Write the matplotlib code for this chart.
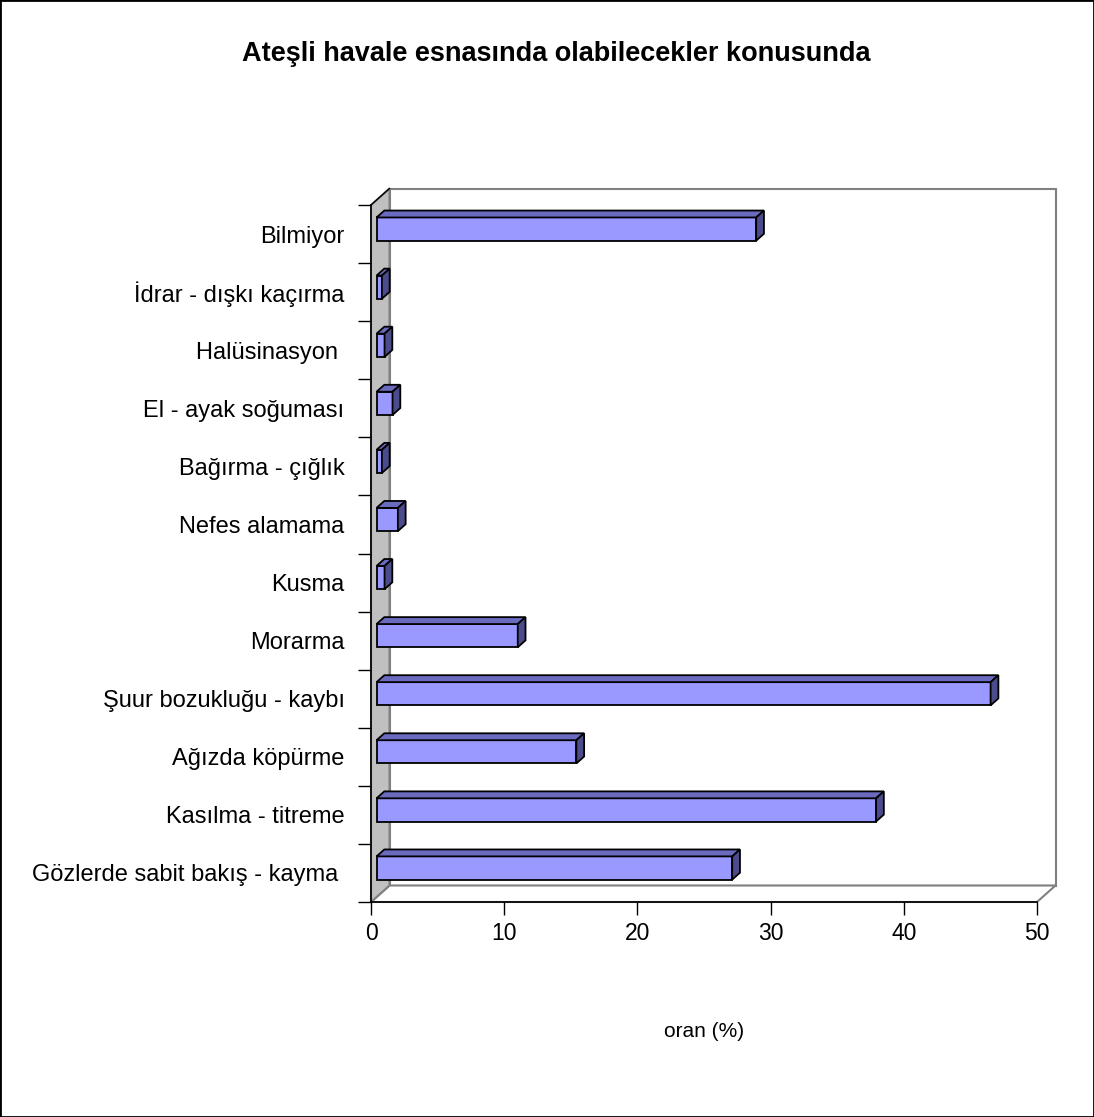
import matplotlib.pyplot as plt
from matplotlib.patches import Polygon, Rectangle

plt.rcParams["font.family"] = ["Liberation Sans", "DejaVu Sans"]

# Categories listed bottom to top
categories = [
    "Gözlerde sabit bakış - kayma ",
    "Kasılma - titreme",
    "Ağızda köpürme",
    "Şuur bozukluğu - kaybı",
    "Morarma",
    "Kusma",
    "Nefes alamama",
    "Bağırma - çığlık",
    "El - ayak soğuması",
    "Halüsinasyon ",
    "İdrar - dışkı kaçırma",
    "Bilmiyor",
]
values = [26.7, 37.5, 15.0, 46.1, 10.6, 0.6, 1.6, 0.4, 1.2, 0.6, 0.4, 28.5]
xticks = [0, 10, 20, 30, 40, 50]

title = "Ateşli havale esnasında olabilecekler konusunda"
xlabel = "oran (%)"

W, H = 1094, 1117
fig = plt.figure(figsize=(W / 100, H / 100), dpi=100)
fig.patches.append(Rectangle((0, 0), 1, 1, transform=fig.transFigure,
                             fill=False, edgecolor="black", lw=2))

# front plane of the plot box, in pixels
left, right, top, bottom = 371, 1037, 205, 902
ax = fig.add_axes([left / W, (H - bottom) / H, (right - left) / W, (bottom - top) / H])
ax.set_xlim(0, 50)
ax.set_ylim(0, len(categories))
ax.patch.set_visible(False)

# 3-D depth offset converted to data units
DX = 18.5 * 50 / (right - left)
DY = 16.5 * len(categories) / (bottom - top)
n = len(categories)

edge_grey = "#808080"
floor = Polygon([(0, 0), (50, 0), (50 + DX, DY), (DX, DY)], closed=True,
                facecolor="white", edgecolor=edge_grey, lw=1.5, zorder=1, clip_on=False)
back = Polygon([(DX, DY), (50 + DX, DY), (50 + DX, n + DY), (DX, n + DY)], closed=True,
               facecolor="white", edgecolor=edge_grey, lw=1.5, zorder=1, clip_on=False)
wall = Polygon([(0, 0), (DX, DY), (DX, n + DY), (0, n)], closed=True,
               facecolor="#C0C0C0", edgecolor=edge_grey, lw=1.5, zorder=1.5, clip_on=False)
for p in (back, floor, wall):
    ax.add_patch(p)
ax.plot([0, DX], [n, n + DY], color="black", lw=1, zorder=2, clip_on=False)

# bars
f0, f1, half = 0.3, 0.72, 0.2
ddx, ddy = (f1 - f0) * DX, (f1 - f0) * DY
for i, v in enumerate(values):
    x0 = f0 * DX
    y0 = i + 0.5 - half + f0 * DY
    y1 = y0 + 2 * half
    kw = dict(edgecolor="black", lw=1.3, zorder=5, clip_on=False, joinstyle="miter")
    ax.add_patch(Rectangle((x0, y0), v, 2 * half, facecolor="#9999FF", **kw))
    ax.add_patch(Polygon([(x0, y1), (x0 + v, y1), (x0 + v + ddx, y1 + ddy), (x0 + ddx, y1 + ddy)],
                         closed=True, facecolor="#6A6ABF", **kw))
    ax.add_patch(Polygon([(x0 + v, y0), (x0 + v + ddx, y0 + ddy), (x0 + v + ddx, y1 + ddy), (x0 + v, y1)],
                         closed=True, facecolor="#4C4C8C", **kw))

for s in ("top", "right"):
    ax.spines[s].set_visible(False)
for s in ("left", "bottom"):
    ax.spines[s].set_color("black")
    ax.spines[s].set_linewidth(1.2)
    ax.spines[s].set_zorder(3)

ax.set_yticks(range(n + 1))
ax.set_yticklabels([])
ax.set_yticks([i + 0.5 for i in range(n)], minor=True)
ax.set_yticklabels(categories, minor=True, fontsize=17)
ax.tick_params(axis="y", which="major", length=9.5, width=1, direction="out", color="black")
ax.tick_params(axis="y", which="minor", length=0, pad=19)

ax.set_xticks(xticks)
ax.set_xticklabels([str(t) for t in xticks], fontsize=16.5)
ax.tick_params(axis="x", which="major", length=9.5, width=1, direction="out", pad=5)

ax.set_xlabel(xlabel, fontsize=15, labelpad=55)

fig.text(556 / W, (H - 54) / H, title, ha="center", va="center",
         fontsize=19.5, fontweight="bold")

fig.savefig("out.png", dpi=100)
